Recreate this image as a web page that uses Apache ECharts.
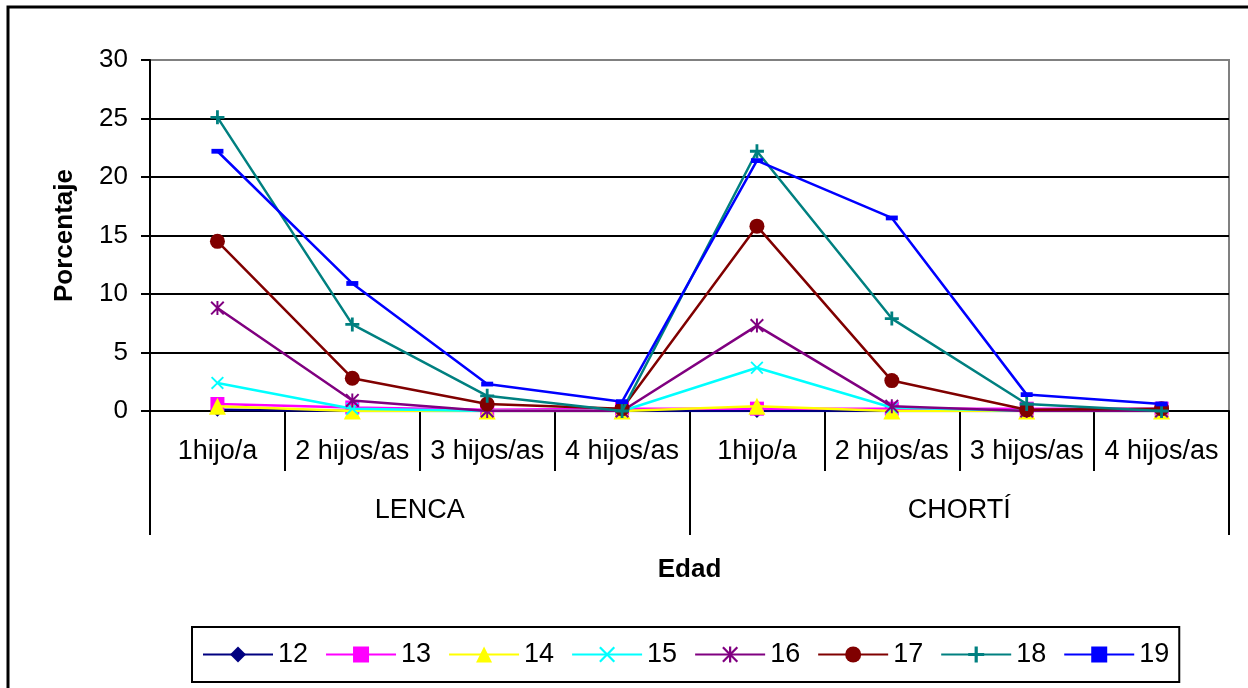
<!DOCTYPE html>
<html>
<head>
<meta charset="utf-8">
<script src="https://cdn.jsdelivr.net/npm/echarts@6/dist/echarts.min.js"></script>
<style>
  html, body { margin: 0; padding: 0; background: #fff; }
  #chart { width: 1248px; height: 688px; }
</style>
</head>
<body>
<div id="chart"></div>
<script>
// categorias del eje x y grupos
const categories = ['1hijo/a', '2 hijos/as', '3 hijos/as', '4 hijos/as', '1hijo/a', '2 hijos/as', '3 hijos/as', '4 hijos/as'];
const groups = ['LENCA', 'CHORTÍ'];
const seriesNames = ['12', '13', '14', '15', '16', '17', '18', '19'];

// porcentajes por edad
const s12 = [0.1, 0, 0, 0, 0, 0, 0, 0];
const s13 = [0.6, 0.3, 0.1, 0.2, 0.2, 0.2, 0.2, 0.2];
const s14 = [0.4, 0, 0, 0, 0.4, 0, 0, 0];
const s15 = [2.4, 0.2, 0, 0, 3.7, 0.3, 0, 0];
const s16 = [8.8, 0.9, 0, 0, 7.3, 0.4, 0, 0];
const s17 = [14.5, 2.8, 0.6, 0.2, 15.8, 2.6, 0.1, 0.2];
const s18 = [25.1, 7.4, 1.3, 0, 22.2, 7.9, 0.6, 0];
const s19 = [22.2, 10.9, 2.3, 0.8, 21.4, 16.5, 1.4, 0.6];

const font = 'Liberation Sans, Arial, sans-serif';

const plusPath = 'path://M4,0H6V4H10V6H6V10H4V6H0V4H4Z';
const crossPath = 'path://M0,1L1,0L5,4L9,0L10,1L6,5L10,9L9,10L5,6L1,10L0,9L4,5Z';
const starPath = 'path://M0,1L1,0L5,4L9,0L10,1L6,5L10,9L9,10L5,6L1,10L0,9L4,5ZM4.3,0H5.7V10H4.3Z';
const dashPath = 'path://M0,0H10V4H0Z';

const styles = [
  { data: s12, color: '#000080', symbol: 'diamond', size: 14 },
  { data: s13, color: '#FF00FF', symbol: 'rect', size: 14 },
  { data: s14, color: '#FFFF00', symbol: 'triangle', size: 17 },
  { data: s15, color: '#00FFFF', symbol: crossPath, size: 13 },
  { data: s16, color: '#800080', symbol: starPath, size: 14 },
  { data: s17, color: '#800000', symbol: 'circle', size: 15 },
  { data: s18, color: '#008080', symbol: plusPath, size: 14 },
  { data: s19, color: '#0000FF', symbol: dashPath, size: 12 }
];

const chart = echarts.init(document.getElementById('chart'));

const option = {
  backgroundColor: '#fff',
  animation: false,
  textStyle: { fontFamily: font },
  graphic: [
    {
      type: 'rect',
      shape: { x: 8, y: 7, width: 1270, height: 710 },
      style: { fill: 'none', stroke: '#000', lineWidth: 3 },
      silent: true
    }
  ],
  grid: {
    left: 150,
    top: 60,
    right: 19,
    bottom: 277,
    show: true,
    borderColor: '#808080',
    borderWidth: 2
  },
  legend: {
    left: 192,
    top: 627,
    itemWidth: 70,
    itemHeight: 20,
    itemGap: 17,
    padding: [14, 10],
    borderColor: '#000',
    borderWidth: 2,
    textStyle: { fontSize: 27, color: '#000', fontFamily: font },
    data: seriesNames
  },
  xAxis: [
    {
      type: 'category',
      data: categories,
      boundaryGap: true,
      axisLine: { lineStyle: { color: '#000', width: 2 } },
      axisTick: { show: true, length: 60, interval: 0, lineStyle: { color: '#000', width: 2 } },
      axisLabel: { interval: 0, fontSize: 27, color: '#000', margin: 27, fontFamily: font },
      splitLine: { show: false }
    },
    {
      type: 'category',
      data: groups,
      position: 'bottom',
      boundaryGap: true,
      axisLine: { show: false },
      axisTick: { show: true, length: 124, interval: 0, lineStyle: { color: '#000', width: 2 } },
      axisLabel: { interval: 0, fontSize: 27, color: '#000', margin: 86, fontFamily: font },
      name: 'Edad',
      nameLocation: 'middle',
      nameGap: 146,
      nameTextStyle: { fontSize: 26, fontWeight: 'bold', color: '#000', fontFamily: font }
    }
  ],
  yAxis: {
    type: 'value',
    min: 0,
    max: 30,
    interval: 5,
    name: 'Porcentaje',
    nameLocation: 'middle',
    nameGap: 72,
    nameTextStyle: { fontSize: 26, fontWeight: 'bold', color: '#000', fontFamily: font },
    axisLine: { show: true, lineStyle: { color: '#000', width: 2 } },
    axisTick: { show: true, length: 9, lineStyle: { color: '#000', width: 2 } },
    axisLabel: { fontSize: 26, color: '#000', margin: 22, fontFamily: font },
    splitLine: { show: true, showMaxLine: false, lineStyle: { color: '#000', width: 2 } }
  },
  series: styles.map((st, i) => ({
    name: seriesNames[i],
    type: 'line',
    data: st.data,
    symbol: st.symbol,
    symbolSize: st.size,
    symbolKeepAspect: true,
    showAllSymbol: true,
    lineStyle: { color: st.color, width: 2.5 },
    itemStyle: { color: st.color },
    z: 2 + i
  }))
};

chart.setOption(option);
</script>
</body>
</html>
